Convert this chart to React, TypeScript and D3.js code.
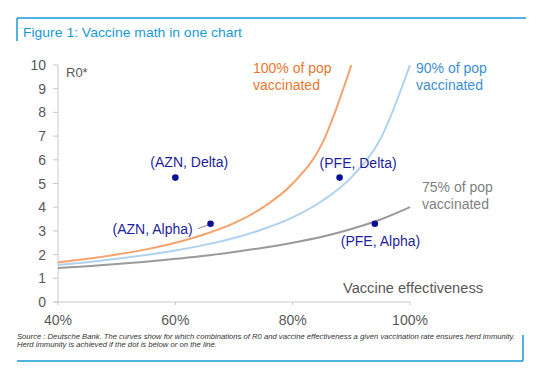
import React from "react";
import * as d3 from "d3";

const effGrid100 = [0.40, 0.45, 0.50, 0.55, 0.60, 0.65, 0.70, 0.75, 0.80, 0.85, 0.90];
const r0Pop100 = [1.67, 1.82, 2.0, 2.22, 2.5, 2.86, 3.33, 4.0, 5.0, 6.67, 10.0];
const effGrid = [0.40, 0.45, 0.50, 0.55, 0.60, 0.65, 0.70, 0.75, 0.80, 0.85, 0.90, 0.95, 1.0];
const r0Pop90 = [1.56, 1.68, 1.82, 1.98, 2.17, 2.41, 2.70, 3.08, 3.57, 4.26, 5.26, 6.90, 10.0];
const r0Pop75 = [1.43, 1.51, 1.60, 1.70, 1.82, 1.95, 2.11, 2.29, 2.50, 2.75, 3.08, 3.48, 4.0];

const pointLabels = ["(AZN, Delta)", "(AZN, Alpha)", "(PFE, Delta)", "(PFE, Alpha)"];
const pointEff = [0.60, 0.66, 0.88, 0.94];
const pointR0 = [5.25, 3.3, 5.25, 3.3];

const xTicks = [0.4, 0.6, 0.8, 1.0];
const yTicks = [0, 1, 2, 3, 4, 5, 6, 7, 8, 9, 10];

const FONT = "'Liberation Sans', Arial, sans-serif";

export default function App() {
  const x = d3.scaleLinear().domain([0.4, 1.0]).range([58, 410]);
  const y = d3.scaleLinear().domain([0, 10]).range([302, 65]);
  const line = d3
    .line<[number, number]>()
    .x((d) => x(d[0]))
    .y((d) => y(d[1]))
    .curve(d3.curveMonotoneX);
  const p100 = line(effGrid100.map((e, i) => [e, r0Pop100[i]] as [number, number]));
  const p90 = line(effGrid.map((e, i) => [e, r0Pop90[i]] as [number, number]));
  const p75 = line(effGrid.map((e, i) => [e, r0Pop75[i]] as [number, number]));

  const labelPos = [
    { dx: -25, dy: -11 },
    { dx: -98, dy: 10 },
    { dx: -20, dy: -10 },
    { dx: -34, dy: 22 },
  ];

  return (
    <svg
      width={558}
      height={380}
      style={{ position: "absolute", left: 0, top: 0, background: "#fff" }}
      fontFamily={FONT}
    >
      {/* frame */}
      <line x1={17} x2={526} y1={18} y2={18} stroke="#1a9ad6" strokeWidth={1.5} />
      <line x1={17} x2={17} y1={18} y2={41} stroke="#1a9ad6" strokeWidth={1.5} />
      <text x={23} y={37} fontSize={13.5} fill="#1a9ad6" textLength={219} lengthAdjust="spacingAndGlyphs">
        Figure 1: Vaccine math in one chart
      </text>
      <line x1={17} x2={523} y1={361} y2={361} stroke="#1a9ad6" strokeWidth={1.5} />
      <line x1={523} x2={523} y1={335} y2={361} stroke="#1a9ad6" strokeWidth={1.5} />

      {/* axes */}
      <line x1={x(0.4)} x2={x(0.4)} y1={y(10)} y2={y(0)} stroke="#c8c8c8" strokeWidth={1} />
      <line x1={55} x2={x(1.0)} y1={y(0)} y2={y(0)} stroke="#c8c8c8" strokeWidth={1} />
      {yTicks.map((t) => (
        <g key={"y" + t}>
          <line x1={53} x2={58} y1={y(t)} y2={y(t)} stroke="#c8c8c8" />
          <text x={46} y={y(t) + 5} fontSize={14} textAnchor="end" fill="#595959">{t}</text>
        </g>
      ))}
      {xTicks.map((t) => (
        <g key={"x" + t}>
          <line x1={x(t)} x2={x(t)} y1={y(0)} y2={y(0) + 3} stroke="#c8c8c8" />
          <text x={x(t)} y={325} fontSize={14} textAnchor="middle" fill="#595959">
            {d3.format(".0%")(t)}
          </text>
        </g>
      ))}
      <text x={66} y={77} fontSize={13} fill="#595959">R0*</text>
      <text x={343} y={293} fontSize={14} fill="#595959" textLength={140} lengthAdjust="spacingAndGlyphs">
        Vaccine effectiveness
      </text>

      {/* curves */}
      <path d={p75 || ""} fill="none" stroke="#9a9a9a" strokeWidth={2} />
      <path d={p90 || ""} fill="none" stroke="#aed2f0" strokeWidth={2} />
      <path d={p100 || ""} fill="none" stroke="#f6a26c" strokeWidth={2} />

      {/* curve labels */}
      <text x={253} y={73} fontSize={14} fill="#e8772e">
        <tspan x={253}>100% of pop</tspan>
        <tspan x={253} dy={17}>vaccinated</tspan>
      </text>
      <text x={416} y={73} fontSize={14} fill="#3d8fd3">
        <tspan x={416}>90% of pop</tspan>
        <tspan x={416} dy={17}>vaccinated</tspan>
      </text>
      <text x={422} y={192} fontSize={14} fill="#7f7f7f">
        <tspan x={422}>75% of pop</tspan>
        <tspan x={422} dy={17}>vaccinated</tspan>
      </text>

      {/* leader for AZN Alpha */}
      <line
        x1={x(pointEff[1]) - 13}
        y1={y(pointR0[1]) + 5}
        x2={x(pointEff[1]) - 2}
        y2={y(pointR0[1]) + 1}
        stroke="#8c8c8c"
        strokeWidth={1}
      />

      {/* points */}
      {pointLabels.map((lab, i) => (
        <g key={lab}>
          <circle cx={x(pointEff[i])} cy={y(pointR0[i])} r={3.3} fill="#0b1196" />
          <text
            x={x(pointEff[i]) + labelPos[i].dx}
            y={y(pointR0[i]) + labelPos[i].dy}
            fontSize={14}
            fill="#1d1f9c"
          >
            {lab}
          </text>
        </g>
      ))}

      {/* source */}
      <text x={17} y={339} fontSize={7.3} fontStyle="italic" fill="#333" textLength={498} lengthAdjust="spacingAndGlyphs">
        Source : Deutsche Bank. The curves show for which combinations of R0 and vaccine effectiveness a given vaccination rate ensures herd immunity.
      </text>
      <text x={17} y={347} fontSize={7.3} fontStyle="italic" fill="#333" textLength={200} lengthAdjust="spacingAndGlyphs">
        Herd immunity is achieved if the dot is below or on the line.
      </text>
    </svg>
  );
}
